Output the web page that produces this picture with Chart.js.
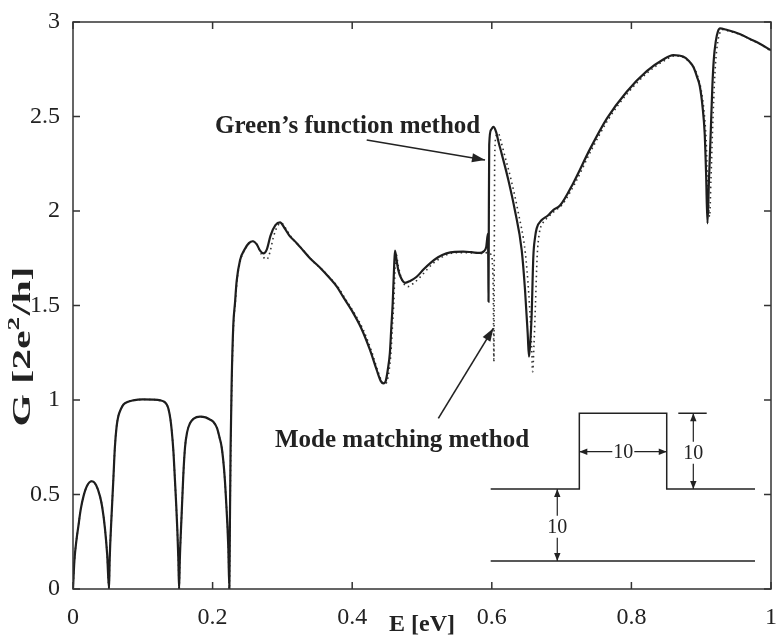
<!DOCTYPE html>
<html>
<head>
<meta charset="utf-8">
<title>Conductance vs energy</title>
<script src="https://cdn.jsdelivr.net/npm/chart.js@4"></script>
<style>
  html, body { margin: 0; padding: 0; background: #fff; }
  #wrap { width: 776px; height: 640px; }
</style>
</head>
<body>
<div id="wrap"><canvas id="chart" width="776" height="640"></canvas></div>
<script>
// E [eV] and G [2e^2/h]
const greenE = [0, 0.002, 0.005, 0.0076, 0.011, 0.015, 0.020, 0.027, 0.033, 0.0387, 0.042, 0.0458, 0.049, 0.0516,
  0.0525, 0.0554, 0.0578, 0.060, 0.0625, 0.065, 0.069, 0.072, 0.078, 0.086, 0.100, 0.115, 0.125, 0.131, 0.1345, 0.1366, 0.1395, 0.1414, 0.144, 0.146, 0.1478, 0.1495, 0.151, 0.152,
  0.153, 0.1557, 0.158, 0.1605, 0.1635, 0.1676, 0.173, 0.182, 0.190, 0.196, 0.201, 0.2065, 0.210, 0.213, 0.2165, 0.219, 0.2225, 0.224,
  0.2248, 0.2258, 0.2273, 0.2297, 0.232, 0.2345, 0.2393, 0.2464, 0.252, 0.2574, 0.263, 0.268, 0.2727, 0.278, 0.283, 0.290, 0.2966, 0.303, 0.310, 0.3205, 0.330, 0.3395, 0.354, 0.368, 0.378, 0.388, 0.400, 0.413, 0.4255, 0.435, 0.441, 0.4446, 0.448, 0.451, 0.454, 0.456, 0.458, 0.460, 0.4613, 0.464, 0.466, 0.470, 0.4756, 0.483, 0.4924, 0.502, 0.5115, 0.523, 0.535, 0.547, 0.559, 0.571, 0.583, 0.588, 0.592, 0.5945, 0.5950, 0.5953, 0.5958, 0.5963, 0.599, 0.6022, 0.606, 0.610, 0.614, 0.6237, 0.633, 0.6428, 0.6476, 0.6514, 0.6533, 0.655, 0.657, 0.6595, 0.662, 0.6643, 0.6715, 0.680, 0.688, 0.698, 0.717, 0.741, 0.765, 0.793, 0.822, 0.845, 0.860, 0.874, 0.882, 0.889, 0.894, 0.898, 0.902, 0.905, 0.907, 0.909, 0.911, 0.9136, 0.916, 0.918, 0.921, 0.924, 0.927, 0.935, 0.956, 0.970, 0.984, 1.0];
const greenG = [0, 0.15, 0.26, 0.33, 0.42, 0.49, 0.545, 0.570, 0.55, 0.49, 0.43, 0.32, 0.18, 0,
  0.15, 0.40, 0.58, 0.75, 0.86, 0.915, 0.955, 0.975, 0.99, 0.998, 1.003, 1.002, 0.998, 0.99, 0.975, 0.955, 0.90, 0.84, 0.72, 0.58, 0.45, 0.31, 0.15, 0,
  0.15, 0.40, 0.60, 0.75, 0.83, 0.877, 0.902, 0.912, 0.908, 0.897, 0.885, 0.85, 0.80, 0.75, 0.63, 0.49, 0.22, 0,
  0.35, 0.75, 1.09, 1.40, 1.51, 1.63, 1.74, 1.80, 1.83, 1.84, 1.825, 1.79, 1.776, 1.80, 1.87, 1.925, 1.94, 1.91, 1.87, 1.83, 1.79, 1.75, 1.70, 1.644, 1.60, 1.54, 1.47, 1.38, 1.265, 1.16, 1.10, 1.088, 1.10, 1.16, 1.25, 1.38, 1.51, 1.70, 1.79, 1.73, 1.688, 1.645, 1.62, 1.63, 1.652, 1.69, 1.723, 1.755, 1.776, 1.784, 1.785, 1.782, 1.778, 1.785, 1.81, 1.88, 1.70, 1.52, 2.00, 2.35, 2.43, 2.445, 2.42, 2.36, 2.305, 2.164, 2.005, 1.794, 1.582, 1.353, 1.229, 1.30, 1.44, 1.758, 1.86, 1.908, 1.952, 1.975, 2.005, 2.03, 2.15, 2.33, 2.49, 2.63, 2.74, 2.80, 2.825, 2.817, 2.795, 2.76, 2.71, 2.66, 2.55, 2.41, 2.20, 1.935, 2.15, 2.41, 2.66, 2.80, 2.90, 2.95, 2.966, 2.96, 2.935, 2.91, 2.885, 2.85];

const modeE = [0, 0.002, 0.005, 0.0076, 0.011, 0.015, 0.020, 0.027, 0.033, 0.0387, 0.042, 0.0458, 0.049, 0.0516,
  0.0525, 0.0554, 0.0578, 0.060, 0.0625, 0.065, 0.069, 0.072, 0.078, 0.086, 0.100, 0.115, 0.125, 0.131, 0.1345, 0.1366, 0.1395, 0.1414, 0.144, 0.146, 0.1478, 0.1495, 0.151, 0.152,
  0.153, 0.1557, 0.158, 0.1605, 0.1635, 0.1676, 0.173, 0.182, 0.190, 0.196, 0.201, 0.2065, 0.210, 0.213, 0.2165, 0.219, 0.2225, 0.224,
  0.225, 0.226, 0.2275, 0.230, 0.2325, 0.235, 0.240, 0.247, 0.2525, 0.258, 0.264, 0.270, 0.2775, 0.282, 0.287, 0.293, 0.299, 0.306, 0.313, 0.323, 0.333, 0.342, 0.357, 0.371, 0.381, 0.391, 0.403, 0.416, 0.428, 0.437, 0.443, 0.4466, 0.450, 0.453, 0.4555, 0.4575, 0.4595, 0.4615, 0.463, 0.466, 0.470, 0.475, 0.480, 0.487, 0.496, 0.506, 0.515, 0.526, 0.538, 0.550, 0.562, 0.574, 0.586, 0.594, 0.599, 0.602, 0.603, 0.6036, 0.6042, 0.6065, 0.6095, 0.613, 0.618, 0.628, 0.638, 0.648, 0.653, 0.6565, 0.6585, 0.6605, 0.6625, 0.665, 0.668, 0.673, 0.680, 0.690, 0.700, 0.719, 0.743, 0.767, 0.795, 0.824, 0.847, 0.862, 0.876, 0.884, 0.891, 0.896, 0.900, 0.904, 0.907, 0.909, 0.912, 0.914, 0.916, 0.9185, 0.9205, 0.9235, 0.9265, 0.930, 0.937, 0.958, 0.972, 0.986, 1.0];
const modeG = [0, 0.15, 0.26, 0.33, 0.42, 0.49, 0.545, 0.570, 0.55, 0.49, 0.43, 0.32, 0.18, 0,
  0.15, 0.40, 0.58, 0.75, 0.86, 0.915, 0.955, 0.975, 0.99, 0.998, 1.003, 1.002, 0.998, 0.99, 0.975, 0.955, 0.90, 0.84, 0.72, 0.58, 0.45, 0.31, 0.15, 0,
  0.15, 0.40, 0.60, 0.75, 0.83, 0.877, 0.902, 0.912, 0.908, 0.897, 0.885, 0.85, 0.80, 0.75, 0.63, 0.49, 0.22, 0,
  0.35, 0.75, 1.09, 1.40, 1.51, 1.63, 1.74, 1.80, 1.83, 1.84, 1.82, 1.77, 1.744, 1.78, 1.86, 1.92, 1.935, 1.90, 1.86, 1.82, 1.78, 1.74, 1.69, 1.635, 1.59, 1.53, 1.46, 1.37, 1.255, 1.15, 1.095, 1.085, 1.10, 1.16, 1.25, 1.38, 1.51, 1.70, 1.77, 1.71, 1.65, 1.61, 1.60, 1.615, 1.645, 1.685, 1.72, 1.75, 1.772, 1.78, 1.78, 1.778, 1.775, 1.78, 1.77, 1.60, 1.20, 1.80, 2.30, 2.40, 2.41, 2.37, 2.30, 2.16, 1.99, 1.78, 1.56, 1.33, 1.15, 1.30, 1.50, 1.76, 1.88, 1.935, 1.965, 2.00, 2.03, 2.145, 2.325, 2.485, 2.625, 2.735, 2.795, 2.82, 2.81, 2.785, 2.75, 2.70, 2.64, 2.53, 2.38, 2.18, 1.97, 2.17, 2.40, 2.64, 2.78, 2.89, 2.94, 2.96, 2.955, 2.93, 2.905, 2.88, 2.845];

const xTicks = [0, 0.2, 0.4, 0.6, 0.8, 1];
const yTicks = [0, 0.5, 1, 1.5, 2, 2.5, 3];

const toPoints = (xs, ys) => xs.map((v, i) => ({ x: v, y: ys[i] }));
const plainNum = v => String(+Number(v).toFixed(2));

function arrow(ctx, x1, y1, x2, y2, len, half) {
  ctx.beginPath();
  ctx.moveTo(x1, y1);
  ctx.lineTo(x2, y2);
  ctx.stroke();
  const a = Math.atan2(y2 - y1, x2 - x1);
  const bx = x2 - len * Math.cos(a), by = y2 - len * Math.sin(a);
  ctx.beginPath();
  ctx.moveTo(x2, y2);
  ctx.lineTo(bx + half * Math.sin(a), by - half * Math.cos(a));
  ctx.lineTo(bx - half * Math.sin(a), by + half * Math.cos(a));
  ctx.closePath();
  ctx.fill();
}

const decor = {
  id: 'decor',
  beforeDraw(chart) {
    const ctx = chart.ctx;
    ctx.save();
    ctx.fillStyle = '#fff';
    ctx.fillRect(0, 0, chart.width, chart.height);
    ctx.restore();
  },
  afterDraw(chart) {
    const { ctx, chartArea: a, scales: { x, y } } = chart;
    const px = v => x.getPixelForValue(v);
    const py = v => y.getPixelForValue(v);
    ctx.save();

    // box with inward ticks on all sides
    ctx.strokeStyle = '#333';
    ctx.lineWidth = 1.5;
    ctx.strokeRect(a.left, a.top, a.right - a.left, a.bottom - a.top);
    ctx.beginPath();
    xTicks.forEach(v => {
      ctx.moveTo(px(v), a.bottom); ctx.lineTo(px(v), a.bottom - 7);
      ctx.moveTo(px(v), a.top); ctx.lineTo(px(v), a.top + 7);
    });
    yTicks.forEach(v => {
      ctx.moveTo(a.left, py(v)); ctx.lineTo(a.left + 7, py(v));
      ctx.moveTo(a.right, py(v)); ctx.lineTo(a.right - 7, py(v));
    });
    ctx.stroke();

    // y axis title, drawn long like the original
    ctx.fillStyle = '#222';
    const big = 'bold 26px "Liberation Serif", "Times New Roman", serif';
    const small = 'bold 17px "Liberation Serif", "Times New Roman", serif';
    ctx.font = big;
    const w1 = ctx.measureText('G [2e').width, w3 = ctx.measureText('/h]').width;
    ctx.font = small;
    const w2 = ctx.measureText('2').width + 1;
    const total = w1 + w2 + w3;
    ctx.save();
    ctx.translate(30, (a.top + a.bottom) / 2 + 41);
    ctx.rotate(-Math.PI / 2);
    ctx.scale(160 / total, 1);
    ctx.textBaseline = 'alphabetic';
    ctx.textAlign = 'left';
    let sx = -total / 2;
    ctx.font = big; ctx.fillText('G [2e', sx, 0); sx += w1;
    ctx.font = small; ctx.fillText('2', sx, -11); sx += w2;
    ctx.font = big; ctx.fillText('/h]', sx, 0);
    ctx.restore();

    // method labels with arrows
    ctx.font = 'bold 25px "Liberation Serif", "Times New Roman", serif';
    ctx.textAlign = 'left';
    ctx.textBaseline = 'alphabetic';
    ctx.fillText('Green\u2019s function method', px(0.2034), py(2.413));
    ctx.fillText('Mode matching method', px(0.2894), py(0.751));
    ctx.strokeStyle = '#222';
    ctx.lineWidth = 1.6;
    arrow(ctx, px(0.4208), py(2.376), px(0.5903), py(2.27), 13, 4.5);
    arrow(ctx, px(0.5234), py(0.903), px(0.6022), py(1.379), 13, 4.5);

    // inset: step geometry with dimensions
    ctx.lineWidth = 1.5;
    ctx.beginPath();
    ctx.moveTo(px(0.5984), py(0.529));
    ctx.lineTo(px(0.7254), py(0.529));
    ctx.lineTo(px(0.7254), py(0.9296));
    ctx.lineTo(px(0.8506), py(0.9296));
    ctx.lineTo(px(0.8506), py(0.529));
    ctx.lineTo(px(0.9771), py(0.529));
    ctx.moveTo(px(0.5984), py(0.148));
    ctx.lineTo(px(0.9771), py(0.148));
    ctx.moveTo(px(0.8672), py(0.9296));
    ctx.lineTo(px(0.9079), py(0.9296));
    ctx.stroke();

    ctx.lineWidth = 1.2;
    ctx.font = '20px "Liberation Serif", "Times New Roman", serif';
    ctx.textAlign = 'center';
    ctx.textBaseline = 'middle';
    // left vertical dimension
    let cx = px(0.6938), cy = py(0.33);
    arrow(ctx, cx, cy - 11, cx, py(0.529), 8, 3.2);
    arrow(ctx, cx, cy + 11, cx, py(0.148), 8, 3.2);
    ctx.fillText('10', cx, cy + 1);
    // horizontal dimension
    cx = px(0.7884); cy = py(0.7265);
    arrow(ctx, cx - 11, cy, px(0.7254), cy, 8, 3.2);
    arrow(ctx, cx + 11, cy, px(0.8506), cy, 8, 3.2);
    ctx.fillText('10', cx, cy + 1);
    // right vertical dimension
    cx = px(0.8887); cy = py(0.721);
    arrow(ctx, cx, cy - 11, cx, py(0.9296), 8, 3.2);
    arrow(ctx, cx, cy + 11, cx, py(0.529), 8, 3.2);
    ctx.fillText('10', cx, cy + 1);

    ctx.restore();
  }
};

const tickFont = { family: '"Liberation Serif", "Times New Roman", serif', size: 24 };

new Chart(document.getElementById('chart'), {
  type: 'line',
  data: {
    datasets: [
      {
        label: 'Green\u2019s function method',
        data: toPoints(greenE, greenG),
        borderColor: '#1e1e1e',
        borderWidth: 2.2,
        pointRadius: 0,
        cubicInterpolationMode: 'monotone',
        fill: false
      },
      {
        label: 'Mode matching method',
        data: toPoints(modeE, modeG),
        borderColor: '#333',
        borderWidth: 1.6,
        borderDash: [1.5, 3.5],
        pointRadius: 0,
        cubicInterpolationMode: 'monotone',
        fill: false
      }
    ]
  },
  options: {
    responsive: false,
    animation: false,
    devicePixelRatio: 1,
    layout: { padding: { top: 22, right: 5, left: 0, bottom: 0 } },
    plugins: { legend: { display: false }, tooltip: { enabled: false } },
    scales: {
      x: {
        type: 'linear',
        min: 0,
        max: 1,
        afterBuildTicks: s => { s.ticks = xTicks.map(v => ({ value: v })); },
        afterFit: s => { s.height = 51; s.paddingLeft = 0; s.paddingRight = 0; },
        grid: { display: false },
        border: { display: false },
        ticks: { font: tickFont, color: '#222', padding: 6, maxRotation: 0, callback: plainNum },
        title: {
          display: true,
          text: 'E [eV]',
          color: '#222',
          font: { family: '"Liberation Serif", "Times New Roman", serif', size: 24, weight: 'bold' },
          padding: { top: 0, bottom: 1 }
        }
      },
      y: {
        min: 0,
        max: 3,
        afterBuildTicks: s => { s.ticks = yTicks.map(v => ({ value: v })); },
        afterFit: s => { s.width = 73; },
        grid: { display: false },
        border: { display: false },
        ticks: { font: tickFont, color: '#222', padding: 5, callback: plainNum }
      }
    }
  },
  plugins: [decor]
});
</script>
</body>
</html>
